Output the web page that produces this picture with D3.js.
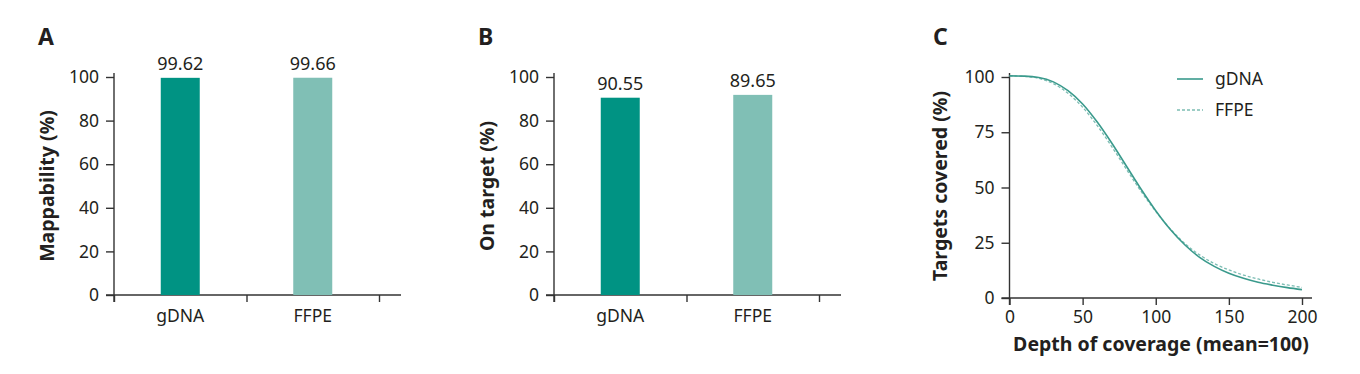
<!DOCTYPE html>
<meta charset="utf-8" />
<script src="https://d3js.org/d3.v7.min.js"></script>
<style>
	body { margin: 0; background: #fff; }
	text { font-family: "Noto Sans", sans-serif; fill: #231f20; }
</style>
<div id="chart"></div>
<script>
	// data
	var categories = ["gDNA", "FFPE"];
	var mapValues = [99.62, 99.66];
	var mapLabels = ["99.62", "99.66"];
	var targetValues = [90.5, 91.8]; // bar heights as drawn
	var targetLabels = ["90.55", "89.65"];
	var barColors = ["#009383", "#80bfb5"];

	var depth = [0, 10, 20, 30, 40, 50, 60, 70, 80, 90, 100, 110, 120, 130, 140, 150, 160, 170, 180, 190, 200];
	var gdnaCov = [100.5, 100.4, 99.8, 97.8, 93.8, 87.8, 79.6, 70.0, 59.6, 49.2, 39.5, 31.0, 24.0, 18.4, 14.3, 11.2, 8.9, 7.1, 5.8, 4.7, 3.8];
	var ffpeCov = [100.5, 100.3, 99.4, 97.0, 92.6, 86.3, 78.0, 68.4, 58.2, 48.2, 39.2, 31.2, 24.6, 19.5, 15.6, 12.7, 10.4, 8.6, 7.1, 5.9, 4.8];

	var barTicks = [0, 20, 40, 60, 80, 100];
	var covYTicks = [0, 25, 50, 75, 100];
	var covXTicks = [0, 50, 100, 150, 200];

	var svg = d3.select("#chart").append("svg")
		.attr("width", 1360)
		.attr("height", 374);

	var axisColor = "#333";
	var tickFont = 17.5;
	var titleFont = 19.5;

	function styleAxis(g) {
		g.selectAll("path.domain").remove();
		g.selectAll("line").attr("stroke", axisColor).attr("stroke-width", 1.4);
		g.selectAll("text").attr("font-size", tickFont).attr("font-family", "Noto Sans").attr("fill", "#231f20");
	}

	// bar panel A / B
	function barPanel(x0, letter, yLabel, values, labels) {
		var top = 77, bottom = 295;
		var y = d3.scaleLinear().domain([0, 100]).range([bottom, top]);
		var frame = d3.scaleLinear().domain([0, 2]).range([x0, x0 + 265]);
		var band = d3.scaleBand().domain(categories).range([x0, x0 + 265]);
		var barW = 39;

		// y axis
		svg.append("g")
			.attr("transform", "translate(" + x0 + ",0)")
			.call(d3.axisLeft(y).tickValues(barTicks).tickSize(8).tickPadding(7))
			.call(styleAxis);
		svg.append("line")
			.attr("x1", x0).attr("x2", x0)
			.attr("y1", top - 4).attr("y2", bottom + 7)
			.attr("stroke", axisColor).attr("stroke-width", 1.4);

		// x axis frame ticks
		svg.append("g")
			.attr("transform", "translate(0," + bottom + ")")
			.call(d3.axisBottom(frame).tickValues([0, 1, 2]).tickSize(7).tickFormat(""))
			.call(styleAxis);
		svg.append("line")
			.attr("x1", x0 - 8).attr("x2", x0 + 287)
			.attr("y1", bottom).attr("y2", bottom)
			.attr("stroke", axisColor).attr("stroke-width", 1.4);

		// bars
		svg.selectAll(null)
			.data(categories)
			.join("rect")
			.attr("x", d => band(d) + band.bandwidth() / 2 - barW / 2)
			.attr("width", barW)
			.attr("y", (d, i) => y(values[i]))
			.attr("height", (d, i) => bottom - y(values[i]))
			.attr("fill", (d, i) => barColors[i]);

		// value labels
		svg.selectAll(null)
			.data(categories)
			.join("text")
			.attr("x", d => band(d) + band.bandwidth() / 2)
			.attr("y", (d, i) => y(values[i]) - 8)
			.attr("text-anchor", "middle")
			.attr("font-size", 18)
			.text((d, i) => labels[i]);

		// category labels
		svg.selectAll(null)
			.data(categories)
			.join("text")
			.attr("x", d => band(d) + band.bandwidth() / 2)
			.attr("y", 322)
			.attr("text-anchor", "middle")
			.attr("font-size", tickFont)
			.text(d => d);

		// y label
		svg.append("text")
			.attr("transform", "translate(" + (x0 - 60) + ",186) rotate(-90)")
			.attr("text-anchor", "middle")
			.attr("font-size", titleFont)
			.attr("font-weight", "bold")
			.text(yLabel);

		// panel letter
		svg.append("text")
			.attr("x", x0 - 76)
			.attr("y", 45)
			.attr("font-size", 23)
			.attr("font-weight", "bold")
			.text(letter);
	}

	barPanel(114, "A", "Mappability (%)", mapValues, mapLabels);
	barPanel(554, "B", "On target (%)", targetValues, targetLabels);

	// panel C
	var cx0 = 1009.5, cx1 = 1302, ctop = 77, cbottom = 298;
	var x = d3.scaleLinear().domain([0, 200]).range([cx0, cx1]);
	var y = d3.scaleLinear().domain([0, 100]).range([cbottom, ctop]);

	svg.append("g")
		.attr("transform", "translate(" + cx0 + ",0)")
		.call(d3.axisLeft(y).tickValues(covYTicks).tickSize(8).tickPadding(7))
		.call(styleAxis);
	svg.append("line")
		.attr("x1", cx0).attr("x2", cx0)
		.attr("y1", ctop - 4).attr("y2", cbottom + 7)
		.attr("stroke", axisColor).attr("stroke-width", 1.4);

	svg.append("g")
		.attr("transform", "translate(0," + cbottom + ")")
		.call(d3.axisBottom(x).tickValues(covXTicks).tickSize(7).tickPadding(6))
		.call(styleAxis);
	svg.append("line")
		.attr("x1", cx0 - 8).attr("x2", 1312)
		.attr("y1", cbottom).attr("y2", cbottom)
		.attr("stroke", axisColor).attr("stroke-width", 1.4);

	var line = d3.line()
		.x((d, i) => x(depth[i]))
		.y(d => y(d))
		.curve(d3.curveMonotoneX);

	svg.append("path")
		.datum(ffpeCov)
		.attr("d", line)
		.attr("fill", "none")
		.attr("stroke", "#7cbdb3")
		.attr("stroke-width", 1.3)
		.attr("stroke-dasharray", "3,2");

	svg.append("path")
		.datum(gdnaCov)
		.attr("d", line)
		.attr("fill", "none")
		.attr("stroke", "#3a9a8c")
		.attr("stroke-width", 1.6);

	// legend
	var legend = [
		{ name: "gDNA", color: "#3a9a8c", dash: null, w: 1.6 },
		{ name: "FFPE", color: "#7cbdb3", dash: "3,2", w: 1.3 }
	];
	legend.forEach(function (d, i) {
		var ly = 79 + i * 31;
		svg.append("line")
			.attr("x1", 1177).attr("x2", 1203)
			.attr("y1", ly).attr("y2", ly)
			.attr("stroke", d.color)
			.attr("stroke-width", d.w)
			.attr("stroke-dasharray", d.dash);
		svg.append("text")
			.attr("x", 1215)
			.attr("y", ly + 6)
			.attr("font-size", tickFont)
			.text(d.name);
	});

	svg.append("text")
		.attr("transform", "translate(947,186) rotate(-90)")
		.attr("text-anchor", "middle")
		.attr("font-size", titleFont)
		.attr("font-weight", "bold")
		.text("Targets covered (%)");

	svg.append("text")
		.attr("x", 1161)
		.attr("y", 351)
		.attr("text-anchor", "middle")
		.attr("font-size", titleFont)
		.attr("font-weight", "bold")
		.text("Depth of coverage (mean=100)");

	svg.append("text")
		.attr("x", 933)
		.attr("y", 45)
		.attr("font-size", 23)
		.attr("font-weight", "bold")
		.text("C");
</script>
